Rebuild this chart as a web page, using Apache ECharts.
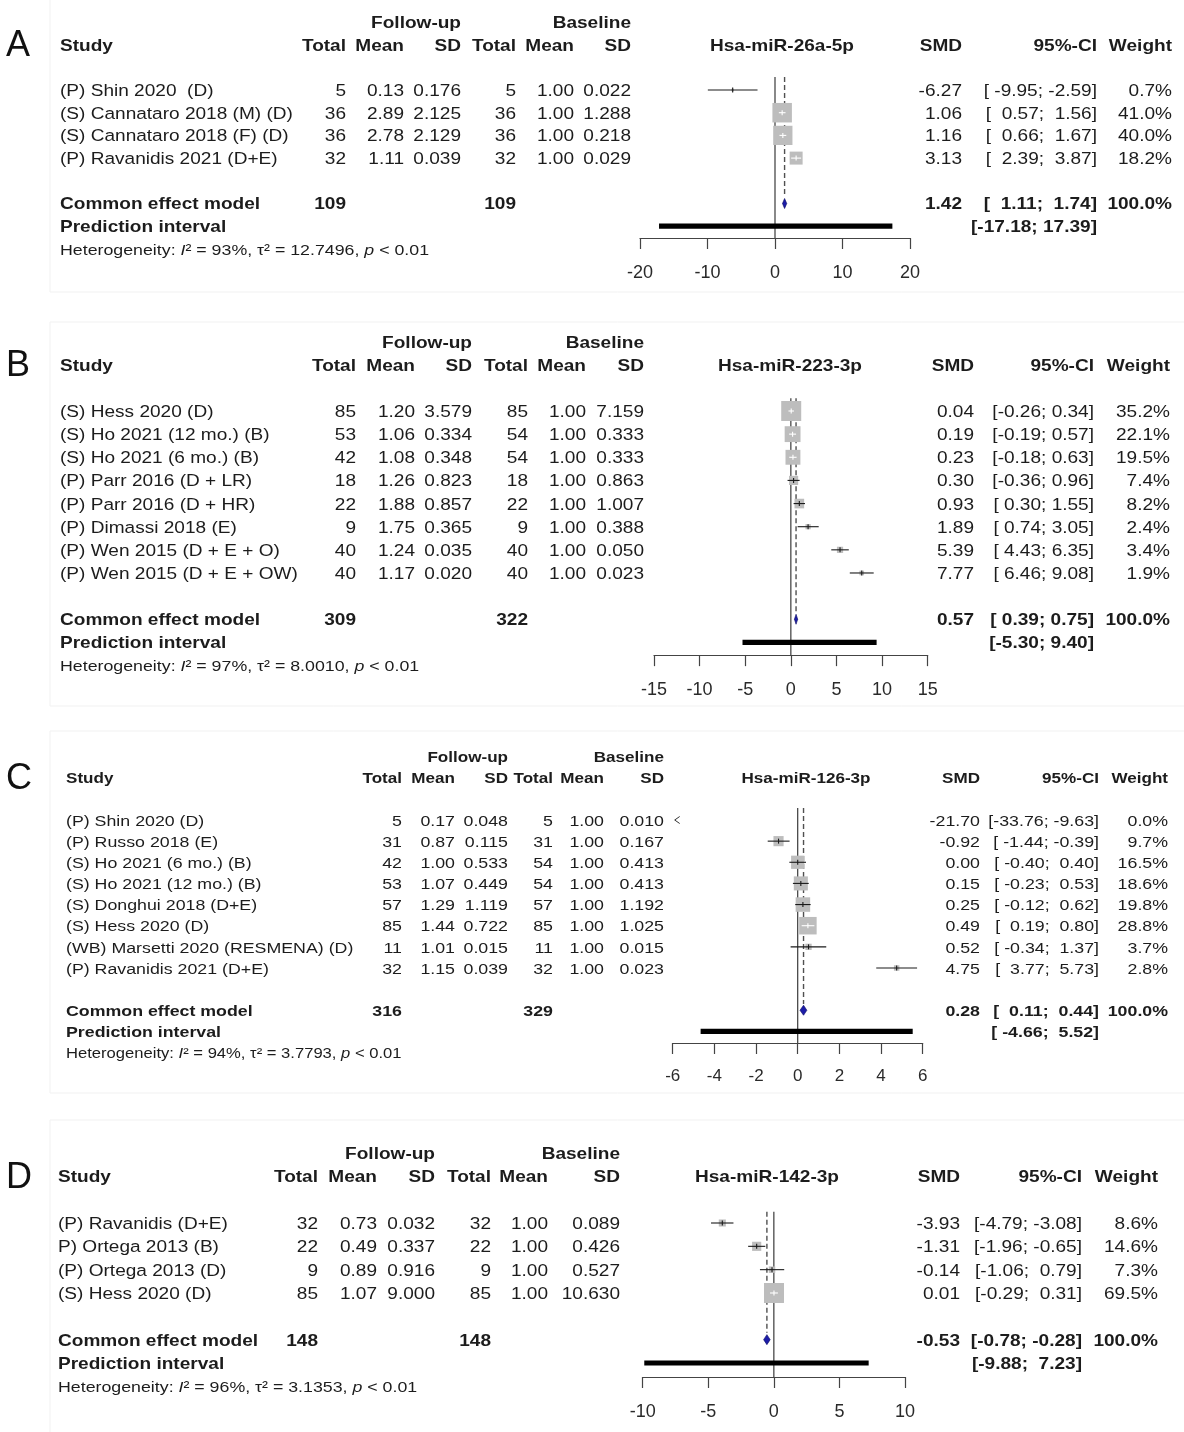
<!DOCTYPE html>
<html><head><meta charset="utf-8">
<script src="https://cdn.jsdelivr.net/npm/echarts@6/dist/echarts.min.js"></script>
<style>html,body{margin:0;padding:0;background:#fff}#c{width:1184px;height:1432px}</style>
</head><body><div id="c"></div>
<script>
// ---------------- DATA ----------------
// Panel A
const A_studies = ['(P) Shin 2020  (D)', '(S) Cannataro 2018 (M) (D)', '(S) Cannataro 2018 (F) (D)', '(P) Ravanidis 2021 (D+E)'];
const A_fuTotal = [5, 36, 36, 32];
const A_fuMean = [0.13, 2.89, 2.78, 1.11];
const A_fuSD = [0.176, 2.125, 2.129, 0.039];
const A_blTotal = [5, 36, 36, 32];
const A_blMean = [1.00, 1.00, 1.00, 1.00];
const A_blSD = [0.022, 1.288, 0.218, 0.029];
const A_smd = [-6.27, 1.06, 1.16, 3.13];
const A_lo = [-9.95, 0.57, 0.66, 2.39];
const A_hi = [-2.59, 1.56, 1.67, 3.87];
const A_weight = [0.7, 41.0, 40.0, 18.2];
const A_totals = [109, 109];
const A_common = [1.42, 1.11, 1.74];
const A_pred = [-17.18, 17.39];
const A_het = ['93%', '12.7496', '< 0.01'];
const A_ticks = [-20, -10, 0, 10, 20];

// Panel B
const B_studies = ['(S) Hess 2020 (D)', '(S) Ho 2021 (12 mo.) (B)', '(S) Ho 2021 (6 mo.) (B)', '(P) Parr 2016 (D + LR)', '(P) Parr 2016 (D + HR)', '(P) Dimassi 2018 (E)', '(P) Wen 2015 (D + E + O)', '(P) Wen 2015 (D + E + OW)'];
const B_fuTotal = [85, 53, 42, 18, 22, 9, 40, 40];
const B_fuMean = [1.20, 1.06, 1.08, 1.26, 1.88, 1.75, 1.24, 1.17];
const B_fuSD = [3.579, 0.334, 0.348, 0.823, 0.857, 0.365, 0.035, 0.020];
const B_blTotal = [85, 54, 54, 18, 22, 9, 40, 40];
const B_blMean = [1.00, 1.00, 1.00, 1.00, 1.00, 1.00, 1.00, 1.00];
const B_blSD = [7.159, 0.333, 0.333, 0.863, 1.007, 0.388, 0.050, 0.023];
const B_smd = [0.04, 0.19, 0.23, 0.30, 0.93, 1.89, 5.39, 7.77];
const B_lo = [-0.26, -0.19, -0.18, -0.36, 0.30, 0.74, 4.43, 6.46];
const B_hi = [0.34, 0.57, 0.63, 0.96, 1.55, 3.05, 6.35, 9.08];
const B_weight = [35.2, 22.1, 19.5, 7.4, 8.2, 2.4, 3.4, 1.9];
const B_totals = [309, 322];
const B_common = [0.57, 0.39, 0.75];
const B_pred = [-5.30, 9.40];
const B_het = ['97%', '8.0010', '< 0.01'];
const B_ticks = [-15, -10, -5, 0, 5, 10, 15];

// Panel C
const C_studies = ['(P) Shin 2020 (D)', '(P) Russo 2018 (E)', '(S) Ho 2021 (6 mo.) (B)', '(S) Ho 2021 (12 mo.) (B)', '(S) Donghui 2018 (D+E)', '(S) Hess 2020 (D)', '(WB) Marsetti 2020 (RESMENA) (D)', '(P) Ravanidis 2021 (D+E)'];
const C_fuTotal = [5, 31, 42, 53, 57, 85, 11, 32];
const C_fuMean = [0.17, 0.87, 1.00, 1.07, 1.29, 1.44, 1.01, 1.15];
const C_fuSD = [0.048, 0.115, 0.533, 0.449, 1.119, 0.722, 0.015, 0.039];
const C_blTotal = [5, 31, 54, 54, 57, 85, 11, 32];
const C_blMean = [1.00, 1.00, 1.00, 1.00, 1.00, 1.00, 1.00, 1.00];
const C_blSD = [0.010, 0.167, 0.413, 0.413, 1.192, 1.025, 0.015, 0.023];
const C_smd = [-21.70, -0.92, 0.00, 0.15, 0.25, 0.49, 0.52, 4.75];
const C_lo = [-33.76, -1.44, -0.40, -0.23, -0.12, 0.19, -0.34, 3.77];
const C_hi = [-9.63, -0.39, 0.40, 0.53, 0.62, 0.80, 1.37, 5.73];
const C_weight = [0.0, 9.7, 16.5, 18.6, 19.8, 28.8, 3.7, 2.8];
const C_totals = [316, 329];
const C_common = [0.28, 0.11, 0.44];
const C_pred = [-4.66, 5.52];
const C_het = ['94%', '3.7793', '< 0.01'];
const C_ticks = [-6, -4, -2, 0, 2, 4, 6];

// Panel D
const D_studies = ['(P) Ravanidis (D+E)', 'P) Ortega 2013 (B)', '(P) Ortega 2013 (D)', '(S) Hess 2020 (D)'];
const D_fuTotal = [32, 22, 9, 85];
const D_fuMean = [0.73, 0.49, 0.89, 1.07];
const D_fuSD = [0.032, 0.337, 0.916, 9.000];
const D_blTotal = [32, 22, 9, 85];
const D_blMean = [1.00, 1.00, 1.00, 1.00];
const D_blSD = [0.089, 0.426, 0.527, 10.630];
const D_smd = [-3.93, -1.31, -0.14, 0.01];
const D_lo = [-4.79, -1.96, -1.06, -0.29];
const D_hi = [-3.08, -0.65, 0.79, 0.31];
const D_weight = [8.6, 14.6, 7.3, 69.5];
const D_totals = [148, 148];
const D_common = [-0.53, -0.78, -0.28];
const D_pred = [-9.88, 7.23];
const D_het = ['96%', '3.1353', '< 0.01'];
const D_ticks = [-10, -5, 0, 5, 10];

const PANELS = [
  {key: 'A', title: 'Hsa-miR-26a-5p', studies: A_studies, fuTotal: A_fuTotal, fuMean: A_fuMean, fuSD: A_fuSD, blTotal: A_blTotal, blMean: A_blMean, blSD: A_blSD, smd: A_smd, lo: A_lo, hi: A_hi, weight: A_weight, totals: A_totals, common: A_common, pred: A_pred, het: A_het, ticks: A_ticks},
  {key: 'B', title: 'Hsa-miR-223-3p', studies: B_studies, fuTotal: B_fuTotal, fuMean: B_fuMean, fuSD: B_fuSD, blTotal: B_blTotal, blMean: B_blMean, blSD: B_blSD, smd: B_smd, lo: B_lo, hi: B_hi, weight: B_weight, totals: B_totals, common: B_common, pred: B_pred, het: B_het, ticks: B_ticks},
  {key: 'C', title: 'Hsa-miR-126-3p', studies: C_studies, fuTotal: C_fuTotal, fuMean: C_fuMean, fuSD: C_fuSD, blTotal: C_blTotal, blMean: C_blMean, blSD: C_blSD, smd: C_smd, lo: C_lo, hi: C_hi, weight: C_weight, totals: C_totals, common: C_common, pred: C_pred, het: C_het, ticks: C_ticks},
  {key: 'D', title: 'Hsa-miR-142-3p', studies: D_studies, fuTotal: D_fuTotal, fuMean: D_fuMean, fuSD: D_fuSD, blTotal: D_blTotal, blMean: D_blMean, blSD: D_blSD, smd: D_smd, lo: D_lo, hi: D_hi, weight: D_weight, totals: D_totals, common: D_common, pred: D_pred, het: D_het, ticks: D_ticks}
];

// ---------------- LAYOUT / STYLE ----------------
const FONT = '"Liberation Sans", Arial, Helvetica, sans-serif';
const SX = 1.17;
const TXT = '#1c1c1c';
const LAYOUT = {
  A: {fs: 16.3, hs: 16.3, hfs: 15.2, axFs: 18, axMargin: 26, y0: 90, s: 22.7, kTop: -0.57, kAxis: 6.52, xL: 640, xR: 910, titleX: 782, frame: [-5, 292], box: 19.5,
      cols: {study: 60, fuTotal: 346, fuMean: 404, fuSD: 461, blTotal: 516, blMean: 574, blSD: 631, smd: 962, ci: 1097, w: 1172}},
  B: {fs: 16.3, hs: 16.3, hfs: 15.2, axFs: 18, axMargin: 26, y0: 411, s: 23.14, kTop: -0.55, kAxis: 10.55, xL: 654, xR: 927.7, titleX: 790, frame: [322, 706], box: 20,
      cols: {study: 60, fuTotal: 356, fuMean: 415, fuSD: 472, blTotal: 528, blMean: 586, blSD: 644, smd: 974, ci: 1094, w: 1170}},
  C: {fs: 15.2, hs: 14.6, hfs: 14.2, axFs: 17, axMargin: 25, y0: 820, s: 21.14, kTop: -0.57, kAxis: 10.55, xL: 672.7, xR: 922.7, titleX: 806, frame: [731, 1093], box: 17.5,
      cols: {study: 66, fuTotal: 402, fuMean: 455, fuSD: 508, blTotal: 553, blMean: 604, blSD: 664, smd: 980, ci: 1099, w: 1168}},
  D: {fs: 16.3, hs: 16.3, hfs: 15.2, axFs: 18, axMargin: 26, y0: 1223, s: 23.33, kTop: -0.48, kAxis: 6.6, xL: 642.7, xR: 905, titleX: 767, frame: [1120, 1440], box: 20,
      cols: {study: 58, fuTotal: 318, fuMean: 377, fuSD: 435, blTotal: 491, blMean: 548, blSD: 620, smd: 960, ci: 1082, w: 1158}}
};
const TEXT_DY = 1.5;

function txt(x, y, text, o) {
  const align = o.align || 'left';
  const size = o.size;
  const st = {
    text: text, x: 0, y: 0, fill: o.fill || TXT, fontSize: size, fontFamily: FONT,
    fontWeight: o.bold ? 'bold' : 'normal',
    textAlign: align, textVerticalAlign: 'middle', align: align, verticalAlign: 'middle'
  };
  if (o.rich) st.rich = o.rich;
  return {type: 'text', x: x, y: y + TEXT_DY, scaleX: (o.sx != null ? o.sx : SX), scaleY: 1, silent: true, z: 10, style: st};
}

const grids = [], xAxes = [], yAxes = [], series = [], graphics = [];

PANELS.forEach(function (P, i) {
  const L = LAYOUT[P.key];
  const C = L.cols;
  const FS = L.fs;
  const n = P.studies.length;
  const kC = n + 1, kP = n + 2, kH = n + 3;
  const yk = function (k) { return L.y0 + k * L.s; };
  const xmin = P.ticks[0], xmax = P.ticks[P.ticks.length - 1];
  const N = {size: FS}, NR = {size: FS, align: 'right'}, BR = {size: FS, align: 'right', bold: true}, BL = {size: FS, bold: true};
  const HR = {size: L.hs, align: 'right', bold: true};

  // frame
  graphics.push({type: 'rect', silent: true, z: 0, shape: {x: 50, y: L.frame[0], width: 1150, height: L.frame[1] - L.frame[0]},
    style: {fill: 'none', stroke: '#f1f1f1', lineWidth: 1}});

  // headers
  graphics.push(txt(6, yk(-2), P.key, {size: 36, sx: 1, fill: '#111'}));
  graphics.push(txt(C.fuSD, yk(-3), 'Follow-up', HR));
  graphics.push(txt(C.blSD, yk(-3), 'Baseline', HR));
  graphics.push(txt(C.study, yk(-2), 'Study', {size: L.hs, bold: true}));
  [['fuTotal', 'Total'], ['fuMean', 'Mean'], ['fuSD', 'SD'], ['blTotal', 'Total'], ['blMean', 'Mean'], ['blSD', 'SD'],
   ['smd', 'SMD'], ['ci', '95%-CI'], ['w', 'Weight']].forEach(function (h) {
    graphics.push(txt(C[h[0]], yk(-2), h[1], HR));
  });
  graphics.push(txt(L.titleX, yk(-2), P.title, {size: L.hs, bold: true, align: 'center'}));

  // CI formatting (R/meta style padding)
  const loAll = P.lo.concat([P.common[1], P.pred[0]]);
  const hiAll = P.hi.concat([P.common[2], P.pred[1]]);
  const wLo = Math.max.apply(null, loAll.map(function (v) { return v.toFixed(2).length; }));
  const wHi = Math.max.apply(null, hiAll.map(function (v) { return v.toFixed(2).length; }));
  const ci = function (a, b) { return '[' + a.toFixed(2).padStart(wLo) + '; ' + b.toFixed(2).padStart(wHi) + ']'; };

  for (let j = 0; j < n; j++) {
    const y = yk(j);
    graphics.push(txt(C.study, y, P.studies[j], N));
    graphics.push(txt(C.fuTotal, y, String(P.fuTotal[j]), NR));
    graphics.push(txt(C.fuMean, y, P.fuMean[j].toFixed(2), NR));
    graphics.push(txt(C.fuSD, y, P.fuSD[j].toFixed(3), NR));
    graphics.push(txt(C.blTotal, y, String(P.blTotal[j]), NR));
    graphics.push(txt(C.blMean, y, P.blMean[j].toFixed(2), NR));
    graphics.push(txt(C.blSD, y, P.blSD[j].toFixed(3), NR));
    graphics.push(txt(C.smd, y, P.smd[j].toFixed(2), NR));
    graphics.push(txt(C.ci, y, ci(P.lo[j], P.hi[j]), NR));
    graphics.push(txt(C.w, y, P.weight[j].toFixed(1) + '%', NR));
  }
  // common effect row
  graphics.push(txt(C.study, yk(kC), 'Common effect model', BL));
  graphics.push(txt(C.fuTotal, yk(kC), String(P.totals[0]), BR));
  graphics.push(txt(C.blTotal, yk(kC), String(P.totals[1]), BR));
  graphics.push(txt(C.smd, yk(kC), P.common[0].toFixed(2), BR));
  graphics.push(txt(C.ci, yk(kC), ci(P.common[1], P.common[2]), BR));
  graphics.push(txt(C.w, yk(kC), '100.0%', BR));
  // prediction row
  graphics.push(txt(C.study, yk(kP), 'Prediction interval', BL));
  graphics.push(txt(C.ci, yk(kP), ci(P.pred[0], P.pred[1]), BR));
  // heterogeneity
  const itStyle = {fontStyle: 'italic', fontSize: L.hfs, fontFamily: FONT, fill: TXT};
  graphics.push(txt(C.study, yk(kH), 'Heterogeneity: {it|I}\u00B2 = ' + P.het[0] + ', \u03C4\u00B2 = ' + P.het[1] + ', {it|p} ' + P.het[2],
    {size: L.hfs, rich: {it: itStyle}}));

  // grid & axes
  grids.push({left: L.xL, width: L.xR - L.xL, top: yk(L.kTop), height: (L.kAxis - L.kTop) * L.s, containLabel: false, outerBoundsMode: 'none'});
  xAxes.push({
    gridIndex: i, type: 'value', min: xmin, max: xmax, interval: P.ticks[1] - P.ticks[0], position: 'bottom',
    axisLine: {show: true, onZero: false, lineStyle: {color: '#444', width: 1.2}},
    axisTick: {show: true, inside: false, length: 11, lineStyle: {color: '#444', width: 1.2}},
    axisLabel: {show: true, margin: L.axMargin, fontSize: L.axFs, color: '#2a2a2a', fontFamily: FONT, showMinLabel: true, showMaxLabel: true,
      formatter: function (v) { return String(v); }},
    splitLine: {show: false}
  });
  yAxes.push({gridIndex: i, type: 'value', inverse: true, min: L.kTop, max: L.kAxis, show: false});

  // reference lines (line of no effect + dashed common effect line)
  series.push({
    type: 'custom', xAxisIndex: i, yAxisIndex: i, z: 1, silent: true, clip: false,
    data: [[0, L.kTop, L.kAxis, 0], [P.common[0], L.kTop, kC - 0.3, 1]],
    renderItem: function (params, api) {
      const x = api.value(0), dashed = api.value(3);
      const p1 = api.coord([x, api.value(1)]), p2 = api.coord([x, api.value(2)]);
      return {type: 'line', shape: {x1: p1[0], y1: p1[1], x2: p2[0], y2: p2[1]},
        style: {stroke: dashed ? '#505050' : '#3a3a3a', lineWidth: dashed ? 1.4 : 1.2, lineDash: dashed ? [5, 3] : null}};
    }
  });
  // prediction interval bar
  series.push({
    type: 'custom', xAxisIndex: i, yAxisIndex: i, z: 2, silent: true, clip: false,
    data: [[P.pred[0], kP, P.pred[1]]],
    renderItem: function (params, api) {
      const a = api.coord([api.value(0), api.value(1)]), b = api.coord([api.value(2), api.value(1)]);
      return {type: 'rect', shape: {x: a[0], y: a[1] - 2.6, width: b[0] - a[0], height: 5.2}, style: {fill: '#000'}};
    }
  });
  // studies
  const wmax = Math.max.apply(null, P.weight);
  series.push({
    type: 'custom', xAxisIndex: i, yAxisIndex: i, z: 3, silent: true, clip: false,
    data: P.smd.map(function (v, j) { return [v, j, P.lo[j], P.hi[j], P.weight[j]]; }),
    renderItem: function (params, api) {
      const est = api.value(0), k = api.value(1), lo = api.value(2), hi = api.value(3), w = api.value(4);
      const pe = api.coord([est, k]);
      const y = pe[1];
      const pmin = api.coord([xmin, k])[0], pmax = api.coord([xmax, k])[0];
      const ch = [];
      const arrow = function (px, dir) {
        ch.push({type: 'polyline', shape: {points: [[px + dir * 7, y - 3.5], [px + dir * 2, y], [px + dir * 7, y + 3.5]]},
          style: {stroke: '#333', lineWidth: 1, fill: null}});
      };
      if (hi < xmin) { arrow(pmin, 1); return {type: 'group', children: ch}; }
      if (lo > xmax) { arrow(pmax, -1); return {type: 'group', children: ch}; }
      const xl = api.coord([Math.max(lo, xmin), k])[0], xr = api.coord([Math.min(hi, xmax), k])[0];
      const box = L.box * Math.sqrt(w / wmax);
      const inside = (xr - xl) <= box;
      ch.push({type: 'rect', shape: {x: pe[0] - box / 2, y: y - box / 2, width: box, height: box}, style: {fill: '#bdbdbd'}});
      const col = inside ? '#ffffff' : '#1a1a1a';
      ch.push({type: 'line', shape: {x1: xl, y1: y, x2: xr, y2: y}, style: {stroke: col, lineWidth: 1.1}});
      ch.push({type: 'line', shape: {x1: pe[0], y1: y - 2.5, x2: pe[0], y2: y + 2.5}, style: {stroke: col, lineWidth: 1.1}});
      if (lo < xmin) arrow(pmin, 1);
      if (hi > xmax) arrow(pmax, -1);
      return {type: 'group', children: ch};
    }
  });
  // common effect diamond
  series.push({
    type: 'custom', xAxisIndex: i, yAxisIndex: i, z: 4, silent: true, clip: false,
    data: [[P.common[0], kC, P.common[1], P.common[2]]],
    renderItem: function (params, api) {
      const k = api.value(1);
      const c = api.coord([api.value(0), k]), a = api.coord([api.value(2), k]), b = api.coord([api.value(3), k]);
      return {type: 'polygon', shape: {points: [[a[0], c[1]], [c[0], c[1] - 5], [b[0], c[1]], [c[0], c[1] + 5]]},
        style: {fill: '#1c1ca8', stroke: '#0a0a60', lineWidth: 0.6}};
    }
  });
});

const chart = echarts.init(document.getElementById('c'), null, {renderer: 'canvas', width: 1184, height: 1432});
chart.setOption({
  animation: false,
  backgroundColor: '#ffffff',
  grid: grids,
  xAxis: xAxes,
  yAxis: yAxes,
  series: series,
  graphic: {elements: graphics}
});
</script></body></html>
